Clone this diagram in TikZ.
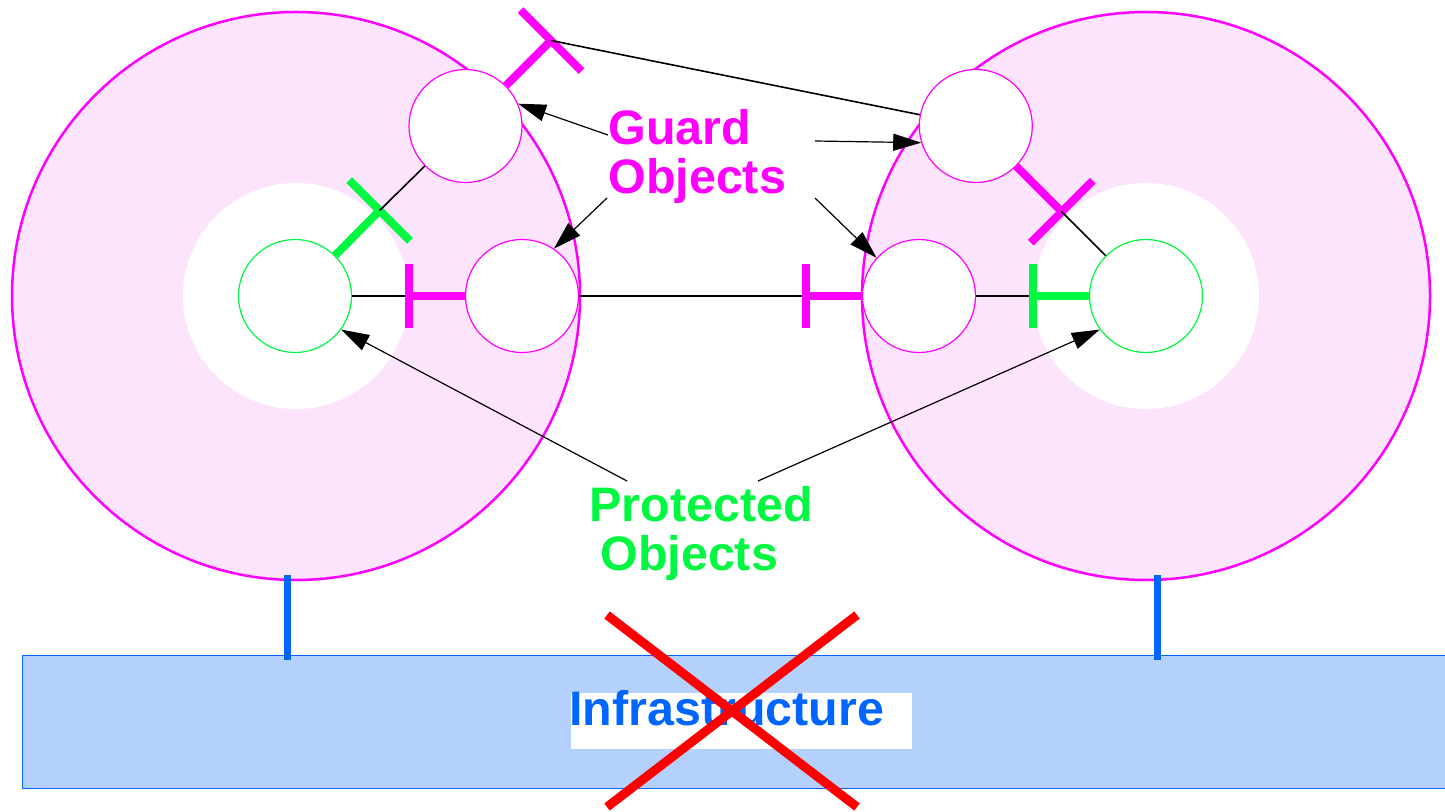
\documentclass[tikz,border=0pt]{standalone}
\usepackage{fontspec}
\setmainfont{Liberation Sans}
\usetikzlibrary{arrows.meta,calc}
\definecolor{mag}{RGB}{255,0,255}
\definecolor{pinkfill}{RGB}{252,228,252}
\definecolor{grn}{RGB}{0,248,64}
\definecolor{infblue}{RGB}{0,102,255}
\definecolor{inffill}{RGB}{179,209,252}
\definecolor{xred}{RGB}{255,0,0}
\begin{document}
\begin{tikzpicture}[x=0.5pt,y=-0.5pt,
  ring/.style={circle, draw=mag, line width=1.25pt, fill=pinkfill, minimum size=284pt, inner sep=0},
  hole/.style={circle, fill=white, minimum size=113pt, inner sep=0},
  guard/.style={circle, draw=mag, line width=0.6pt, fill=white, minimum size=56.5pt, inner sep=0},
  prot/.style={circle, draw=grn, line width=0.6pt, fill=white, minimum size=56.5pt, inner sep=0},
  link/.style={black, line width=0.8pt},
  tmag/.style={mag, line width=4pt},
  tgrn/.style={grn, line width=4pt},
  pointer/.style={black, line width=0.6pt, -{Triangle[length=14pt,width=8.5pt]}},
  lbl/.style={font=\fontsize{24.2}{24.7}\selectfont\bfseries, inner sep=0, align=left},
  bluebar/.style={infblue, line width=3.5pt},
  cross/.style={xred, line width=4.5pt}
]
\useasboundingbox (0,0) rectangle (1445,812);
\clip (0,0) rectangle (1445,812);

% rings
\node[ring] (lring) at (296,296) {};
\node[ring] (rring) at (1146,296) {};
\node[hole] (lhole) at (296,296) {};
\node[hole] (rhole) at (1146,296) {};

% objects
\node[prot] (lg) at (295,296) {};
\node[guard] (llg) at (522,296) {};
\node[guard] (ltg) at (465.5,126) {};
\node[prot] (rg) at (1146,296) {};
\node[guard] (rlg) at (919,296) {};
\node[guard] (rtg) at (975.8,126) {};

% T connectors
\coordinate (tL1) at (409,296);
\coordinate (tL2) at (379.6,210.5);
\coordinate (tT) at (551,40.5);
\coordinate (tR1) at (806,296);
\coordinate (tR2) at (1032.7,296);
\coordinate (tR3) at (1061.7,211.7);

\draw[link] (lg) -- (tL1);
\draw[tmag] (tL1) -- (llg);
\draw[tmag] ($(tL1)+(0,-32)$) -- ($(tL1)+(0,32)$);

\draw[tgrn] (lg) -- (tL2);
\draw[tgrn] ($(tL2)+(-30.4,-30.4)$) -- ($(tL2)+(30.4,30.4)$);
\draw[link] (tL2) -- (ltg);

\draw[tmag] (ltg) -- (tT);
\draw[tmag] ($(tT)+(-30.5,-30.5)$) -- ($(tT)+(30.5,30.5)$);
\draw[link] (tT) -- (rtg);

\draw[link] (llg) -- (tR1);
\draw[tmag] (tR1) -- (rlg);
\draw[tmag] ($(tR1)+(0,-32)$) -- ($(tR1)+(0,32)$);

\draw[link] (rlg) -- (tR2);
\draw[tgrn] (tR2) -- (rg);
\draw[tgrn] ($(tR2)+(0,-32)$) -- ($(tR2)+(0,32)$);

\draw[tmag] (rtg) -- (tR3);
\draw[tmag] ($(tR3)+(-31,31)$) -- ($(tR3)+(31,-31)$);
\draw[link] (tR3) -- (rg);

% labels
\node[lbl, text=mag, anchor=north west] (guardlbl) at (608,109) {Guard\\Objects};
\node[lbl, text=grn, anchor=north west] (protlbl) at (589,486) {Protected\\\hspace*{5.5pt}Objects};

% pointers
\coordinate (gA1) at (608,135);
\coordinate (gA2) at (607,198);
\coordinate (gA3) at (815,141);
\coordinate (gA4) at (815,198);
\coordinate (pA1) at (627,481);
\coordinate (pA2) at (758,481);
\draw[pointer] (gA1) -- (ltg.23);
\draw[pointer] (gA2) -- (llg.56);
\draw[pointer] (gA3) -- (rtg.197);
\draw[pointer] (gA4) -- (rlg.138);
\draw[pointer] (pA1) -- (lg.-36);
\draw[pointer] (pA2) -- (rg.216);

% infrastructure
\node[rectangle, draw=infblue, line width=0.6pt, fill=inffill, minimum width=719pt, minimum height=66.5pt, inner sep=0, anchor=north west] (infra) at (22,655) {};
\node[rectangle, fill=white, minimum width=170.5pt, minimum height=28pt, inner sep=0, anchor=north west] (infrabox) at (571,693) {};
\node[font=\fontsize{24.2}{24.7}\selectfont\bfseries, text=infblue, inner sep=0, anchor=base west] (infratxt) at (569,725) {Infrastructure};

\coordinate (bL1) at (287,575);
\coordinate (bL2) at (287,660);
\coordinate (bR1) at (1157,575);
\coordinate (bR2) at (1157,660);
\draw[bluebar] (bL1) -- (bL2);
\draw[bluebar] (bR1) -- (bR2);

% red cross
\coordinate (x1) at (607,615);
\coordinate (x2) at (857,807);
\coordinate (x3) at (857,615);
\coordinate (x4) at (607,807);
\draw[cross] (x1) -- (x2);
\draw[cross] (x3) -- (x4);
\end{tikzpicture}
\end{document}
